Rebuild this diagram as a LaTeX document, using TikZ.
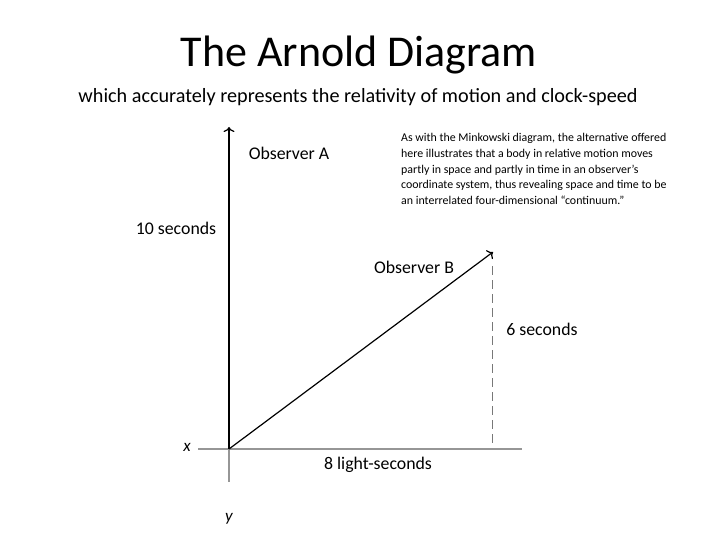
\documentclass[tikz,border=0pt]{standalone}
\usepackage{fontspec}
\setmainfont{Carlito}
\usetikzlibrary{arrows,arrows.meta,positioning,calc}
\definecolor{axisgray}{RGB}{150,150,150}
\definecolor{dashgray}{RGB}{120,120,120}
\tikzstyle{axis}=[draw=black,line width=1.2pt,-{To[length=5pt,width=11pt]}]
\tikzstyle{faint}=[draw=axisgray,line width=1.2pt]
\tikzstyle{motion}=[draw=black,line width=1.2pt,-{To[length=5pt,width=11pt]}]
\tikzstyle{proj}=[draw=dashgray,line width=0.9pt,dash pattern=on 9pt off 5pt]
\tikzstyle{label}=[inner sep=0pt,font=\fontsize{17.8}{21}\selectfont]
\tikzstyle{axisname}=[label,font=\fontsize{17}{20}\selectfont\itshape]
\tikzstyle{note}=[inner sep=0pt,align=left,anchor=north west,font=\fontsize{11.9}{15.8}\selectfont]

\begin{document}
\begin{tikzpicture}[x=1pt,y=-1pt]
    \useasboundingbox (0,0) rectangle (720,540);

    \node[inner sep=0pt,font=\fontsize{44}{50}\selectfont] (title) at (359,55) {The Arnold Diagram};
    \node[inner sep=0pt,font=\fontsize{20.2}{24}\selectfont] (subtitle) at (358,97)
        {which accurately represents the relativity of motion and clock-speed};

    \coordinate (origin) at (229,449);
    \coordinate (ttop) at (229,127);
    \coordinate (xleft) at (198,449);
    \coordinate (xright) at (522,449);
    \coordinate (ybottom) at (229,482);
    \coordinate (btip) at (493,252);
    \coordinate (bfoot) at (492,446);

    \draw[faint] (xleft) -- (xright);
    \draw[faint] (origin) -- (ybottom);
    \draw[proj] ($(btip)+(-1,14)$) -- (bfoot);
    \draw[axis] (origin) -- (ttop);
    \draw[motion] (origin) -- (btip);

    \node[label] (obsA) at (289,153) {Observer A};
    \node[label] (obsB) at (414,267) {Observer B};
    \node[label] (tA) at (176,228) {10 seconds};
    \node[label] (tB) at (542,329) {6 seconds};
    \node[label] (dist) at (378,465) {8 light-seconds};
    \node[axisname] (xname) at (187,447) {x};
    \node[axisname] (yname) at (229,519) {y};

    \node[note] (remark) at (401,133) {As with the Minkowski diagram, the alternative offered\\
        here illustrates that a body in relative motion moves\\
        partly in space and partly in time in an observer’s\\
        coordinate system, thus revealing space and time to be\\
        an interrelated four-dimensional “continuum.”};
\end{tikzpicture}
\end{document}
